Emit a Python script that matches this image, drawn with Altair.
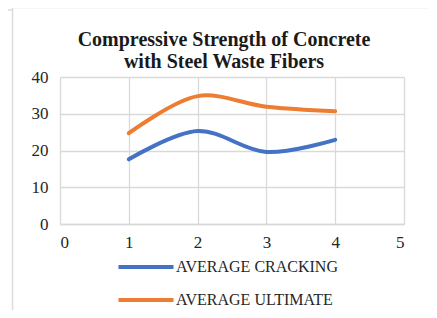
import altair as alt
import pandas as pd

x_vals = [1, 2, 3, 4]
cracking = [17.6, 25.3, 19.6, 22.9]
ultimate = [24.7, 34.8, 31.9, 30.7]
series = ["AVERAGE CRACKING", "AVERAGE ULTIMATE"]
colors = ["#4472C4", "#ED7D31"]
title_lines = ["Compressive Strength of Concrete", "with Steel Waste Fibers"]

rows = []
for xv, c, u in zip(x_vals, cracking, ultimate):
    rows.append({"x": xv, "y": c, "s": series[0]})
    rows.append({"x": xv, "y": u, "s": series[1]})
df = pd.DataFrame(rows)

FONT = "Liberation Serif"

lines = alt.Chart(df).mark_line(strokeWidth=4, interpolate="catmull-rom", strokeCap="round").encode(
    x=alt.X("x:Q", scale=alt.Scale(domain=[0, 5], nice=False),
            axis=alt.Axis(values=[0, 1, 2, 3, 4, 5], title=None, format="d",
                          labelFont=FONT, labelFontSize=17, labelColor="#262626",
                          labelPadding=10, ticks=False, domainColor="#d9d9d9",
                          domainWidth=1.5, gridColor="#d9d9d9", gridWidth=1.3)),
    y=alt.Y("y:Q", scale=alt.Scale(domain=[0, 40], nice=False),
            axis=alt.Axis(values=[0, 10, 20, 30, 40], title=None,
                          labelFont=FONT, labelFontSize=17, labelColor="#262626",
                          labelPadding=12, ticks=False, domain=False,
                          gridColor="#d9d9d9", gridWidth=1.3)),
    color=alt.Color("s:N", scale=alt.Scale(domain=series, range=colors),
                    legend=alt.Legend(title=None, orient="none", legendX=76, legendY=180,
                                      direction="vertical",
                                      symbolType="M-3.44,0L3.44,0",
                                      symbolSize=256, symbolStrokeWidth=4,
                                      symbolFillColor="transparent",
                                      labelFont=FONT, labelFontSize=16, labelColor="#262626",
                                      labelLimit=400,
                                      rowPadding=15, labelOffset=20, padding=0)),
)

frame_df = pd.DataFrame({"a": [0]})
top_rule = alt.Chart(frame_df).mark_rule(color="#dcdcdc", strokeWidth=1.5).encode(
    x=alt.value(-47.5), x2=alt.value(380), y=alt.value(-69.5))
left_rule = alt.Chart(frame_df).mark_rule(color="#dcdcdc", strokeWidth=1.5).encode(
    x=alt.value(-47.5), y=alt.value(-69.5), y2=alt.value(240))
small_rule = alt.Chart(frame_df).mark_rule(color="#dcdcdc", strokeWidth=1.5).encode(
    x=alt.value(-68), x2=alt.value(-48), y=alt.value(-67))

title1 = alt.Chart(frame_df).mark_text(
    text=title_lines[0], font=FONT, fontSize=20, fontWeight="bold", color="#1a1a1a",
    align="center", baseline="alphabetic").encode(x=alt.value(164), y=alt.value(-31))
title2 = alt.Chart(frame_df).mark_text(
    text=title_lines[1], font=FONT, fontSize=20, fontWeight="bold", color="#1a1a1a",
    align="center", baseline="alphabetic").encode(x=alt.value(164), y=alt.value(-9.5))

chart = alt.layer(top_rule, left_rule, small_rule, title1, title2, lines).properties(
    width=344, height=147,
    padding={"left": 52, "top": 69, "right": 25, "bottom": 86},
    autosize=alt.AutoSizeParams(type="none"),
    background="white",
).configure_view(stroke=None).configure_axis(labelFont=FONT).configure_legend(labelFont=FONT)

chart.save("out.html", embed_options={"renderer": "svg", "actions": False})
